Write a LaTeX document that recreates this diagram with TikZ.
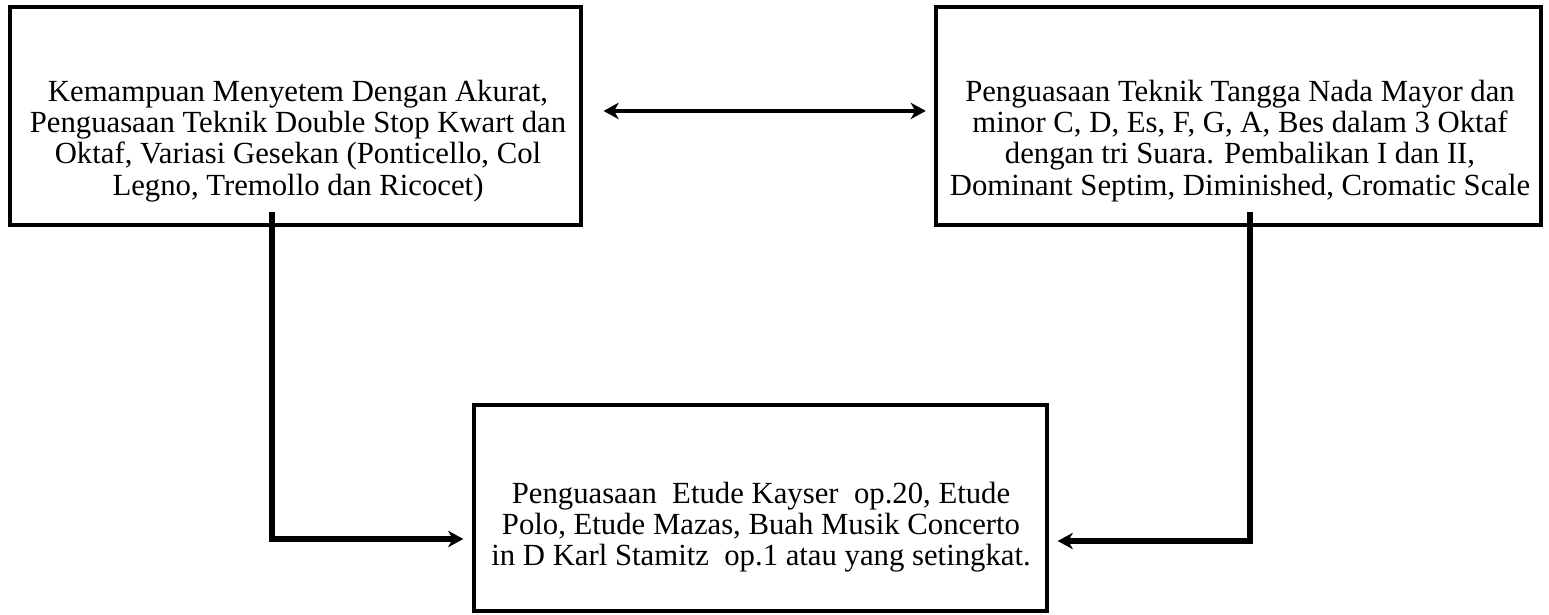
\documentclass[tikz,border=0pt]{standalone}
\usepackage{fontspec}
\setmainfont{Liberation Serif}
\usetikzlibrary{arrows.meta,positioning,fit}

\begin{document}
\begin{tikzpicture}[x=0.397pt,y=-0.397pt,
		kotak/.style={draw,line width=1.3pt,inner sep=0pt},
		teks/.style={align=center,font=\fontsize{12.2}{12.4}\selectfont},
		panah/.style={line width=2.2pt,-{Stealth[length=6pt,width=6.5pt,inset=1.8pt]}},
		duaarah/.style={line width=1.8pt,{Stealth[length=6pt,width=6.5pt,inset=1.8pt]}-{Stealth[length=6pt,width=6.5pt,inset=1.8pt]}}]
	\useasboundingbox (0,0) rectangle (1549,615);
	
	\node[kotak,fit={(10,7) (581,225)}] (kiri) {};
	\node[kotak,fit={(936,7) (1541,225)}] (kanan) {};
	\node[kotak,fit={(474,405) (1047,611)}] (bawah) {};
	
	\node[teks] (tkiri) at (298,141) {Kemampuan Menyetem Dengan Akurat,\\Penguasaan Teknik Double Stop Kwart dan\\Oktaf, Variasi Gesekan (Ponticello, Col\\Legno, Tremollo dan Ricocet)};
	\node[teks] (tkanan) at (1240,141) {Penguasaan Teknik Tangga Nada Mayor dan\\minor C, D, Es, F, G, A, Bes dalam 3 Oktaf\\dengan tri Suara. Pembalikan I dan II,\\Dominant Septim, Diminished, Cromatic Scale};
	\node[teks] (tbawah) at (761,527) {Penguasaan\ \ Etude Kayser\ \ op.20, Etude\\Polo, Etude Mazas, Buah Musik Concerto\\in D Karl Stamitz\ \ op.1 atau yang setingkat.};
	
	\coordinate (a1) at (272,212);
	\coordinate (a2) at (272,539);
	\coordinate (b1) at (1250,212);
	\coordinate (b2) at (1250,541);
	
	\draw[duaarah,shorten <=8.3pt,shorten >=3.4pt] ([yshift=2pt]kiri.east) -- ([yshift=2pt]kanan.west);
	\draw[panah,shorten >=3.6pt] (a1) -- (a2) -- (a2 -| bawah.west);
	\draw[panah,shorten >=3.6pt] (b1) -- (b2) -- (b2 -| bawah.east);
	
\end{tikzpicture}
\end{document}
